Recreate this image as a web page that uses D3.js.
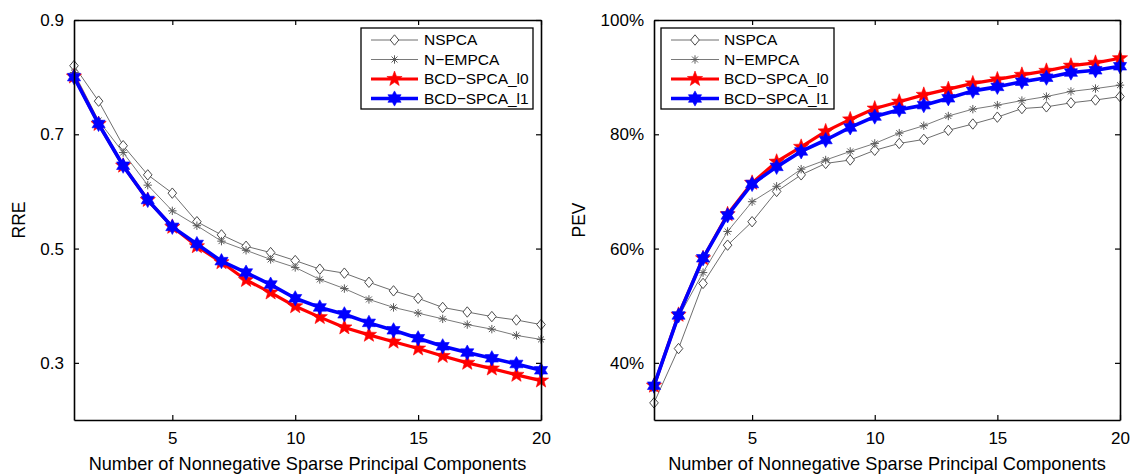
<!DOCTYPE html>
<html>
<head>
<meta charset="utf-8">
<script src="https://cdn.jsdelivr.net/npm/d3@7"></script>
<style>
  html, body { margin: 0; padding: 0; background: #fff; }
  svg { display: block; font-family: "Liberation Sans", Arial, Helvetica, sans-serif; }
</style>
</head>
<body>
<svg id="chart" width="1133" height="474"></svg>
<script>
// Number of nonnegative sparse principal components
const components = d3.range(1, 21);

// Relative reconstruction error (left panel)
const rreNSPCA  = [0.820, 0.758, 0.680, 0.629, 0.597, 0.547, 0.524, 0.504, 0.493, 0.479,
                   0.464, 0.457, 0.441, 0.426, 0.413, 0.397, 0.389, 0.381, 0.375, 0.367];
const rreNEMPCA = [0.808, 0.724, 0.668, 0.611, 0.566, 0.540, 0.513, 0.497, 0.481, 0.467,
                   0.446, 0.430, 0.411, 0.397, 0.387, 0.377, 0.367, 0.359, 0.348, 0.341];
const rreL0     = [0.801, 0.718, 0.645, 0.585, 0.538, 0.504, 0.476, 0.445, 0.423, 0.399,
                   0.380, 0.362, 0.349, 0.337, 0.325, 0.312, 0.300, 0.290, 0.279, 0.269];
const rreL1     = [0.800, 0.718, 0.645, 0.585, 0.538, 0.508, 0.478, 0.458, 0.437, 0.413,
                   0.397, 0.385, 0.370, 0.357, 0.343, 0.329, 0.318, 0.308, 0.298, 0.287];

// Proportion of explained variance, in percent (right panel)
const pevNSPCA  = [33.0, 42.5, 53.9, 60.6, 64.7, 70.0, 72.9, 74.9, 75.5, 77.2,
                   78.4, 79.1, 80.7, 81.8, 83.0, 84.5, 84.8, 85.5, 86.0, 86.6];
const pevNEMPCA = [35.5, 48.0, 55.8, 63.0, 68.2, 70.9, 73.9, 75.5, 77.0, 78.4,
                   80.2, 81.5, 83.2, 84.4, 85.1, 85.9, 86.6, 87.5, 88.0, 88.6];
const pevL0     = [36.0, 48.4, 58.3, 66.0, 71.5, 75.2, 77.8, 80.5, 82.6, 84.5,
                   85.7, 86.9, 87.9, 88.9, 89.6, 90.4, 91.1, 92.0, 92.5, 93.3];
const pevL1     = [36.0, 48.3, 58.3, 65.8, 71.3, 74.3, 77.0, 79.0, 81.2, 83.1,
                   84.3, 85.1, 86.3, 87.6, 88.3, 89.2, 89.9, 90.8, 91.2, 91.9];

const methodNames = ["NSPCA", "N\u2212EMPCA", "BCD\u2212SPCA_l0", "BCD\u2212SPCA_l1"];

const xTicks    = [5, 10, 15, 20];
const rreTicks  = [0.3, 0.5, 0.7, 0.9];
const pevTicks  = [40, 60, 80, 100];
const xLabel    = "Number of Nonnegative Sparse Principal Components";

// Marker shapes
function starPath(points, outer, inner) {
  const pts = [];
  for (let i = 0; i < points * 2; i++) {
    const r = i % 2 === 0 ? outer : inner;
    const a = -Math.PI / 2 + i * Math.PI / points;
    pts.push([r * Math.cos(a), r * Math.sin(a)]);
  }
  return "M" + pts.map(p => p[0].toFixed(2) + "," + p[1].toFixed(2)).join("L") + "Z";
}
const diamondPath  = "M0,-5.2L4.3,0L0,5.2L-4.3,0Z";
const asteriskPath = (() => {
  const r = 4.2, d = r * 0.7071;
  return `M${-r},0L${r},0M0,${-r}L0,${r}M${-d},${-d}L${d},${d}M${-d},${d}L${d},${-d}`;
})();
const pentagram = starPath(5, 8, 3.3);
const hexagram  = starPath(6, 7.6, 4.3);

const styles = [
  { line: "#6e6e6e", width: 1,   marker: diamondPath,  mFill: "#fff",    mStroke: "#4a4a4a", mWidth: 1 },
  { line: "#7a7a7a", width: 1,   marker: asteriskPath, mFill: "none",    mStroke: "#5a5a5a", mWidth: 1 },
  { line: "#ff0000", width: 3.2, marker: pentagram,    mFill: "#ff0000", mStroke: "#ff0000", mWidth: 0.6 },
  { line: "#0000ff", width: 3.6, marker: hexagram,     mFill: "#0000ff", mStroke: "#0000ff", mWidth: 0.6 }
];

const svg = d3.select("#chart");

function panel(opts) {
  const { left, right, top, bottom, yDomain, yTicks, yFormat, yLabel, yLabelX, series, legend } = opts;
  const g = svg.append("g");
  const x = d3.scaleLinear().domain([1, 20]).range([left, right]);
  const y = d3.scaleLinear().domain(yDomain).range([bottom, top]);

  // series lines + markers
  series.forEach((vals, si) => {
    const st = styles[si];
    const pts = components.map((c, i) => [x(c), y(vals[i])]);
    g.append("path")
      .attr("d", d3.line()(pts))
      .attr("fill", "none")
      .attr("stroke", st.line)
      .attr("stroke-width", st.width)
      .attr("stroke-linejoin", "round");
    g.append("g").selectAll("path").data(pts).join("path")
      .attr("transform", d => `translate(${d[0]},${d[1]})`)
      .attr("d", st.marker)
      .attr("fill", st.mFill)
      .attr("stroke", st.mStroke)
      .attr("stroke-width", st.mWidth)
      .attr("stroke-linejoin", "miter");
  });

  // axes box with inward ticks on all four sides
  const tickLen = 5;
  const bottomAxis = d3.axisBottom(x).tickValues(xTicks).tickSizeInner(-tickLen).tickSizeOuter(0).tickPadding(12);
  const topAxis    = d3.axisTop(x).tickValues(xTicks).tickSizeInner(-tickLen).tickSizeOuter(0).tickFormat("");
  const leftAxis   = d3.axisLeft(y).tickValues(yTicks).tickSizeInner(-tickLen).tickSizeOuter(0).tickPadding(10).tickFormat(yFormat);
  const rightAxis  = d3.axisRight(y).tickValues(yTicks).tickSizeInner(-tickLen).tickSizeOuter(0).tickFormat("");

  const axes = [
    [bottomAxis, `translate(0,${bottom})`],
    [topAxis, `translate(0,${top})`],
    [leftAxis, `translate(${left},0)`],
    [rightAxis, `translate(${right},0)`]
  ];
  axes.forEach(([ax, tr]) => {
    const a = g.append("g").attr("transform", tr).call(ax);
    a.select(".domain").attr("stroke", "#000").attr("stroke-width", 1.6);
    a.selectAll(".tick line").attr("stroke", "#000").attr("stroke-width", 1.2);
    a.selectAll(".tick text").attr("fill", "#000").style("font-size", "17px")
      .style("font-family", "'Liberation Sans', Arial, sans-serif");
  });

  // axis labels
  g.append("text")
    .attr("x", (left + right) / 2).attr("y", 469.5)
    .attr("text-anchor", "middle")
    .style("font-size", "18.2px")
    .text(xLabel);
  g.append("text")
    .attr("transform", `translate(${yLabelX},${(top + bottom) / 2}) rotate(-90)`)
    .attr("text-anchor", "middle")
    .style("font-size", "17.5px")
    .text(yLabel);

  // legend
  const lg = g.append("g");
  lg.append("rect")
    .attr("x", legend.x0).attr("y", legend.y0)
    .attr("width", legend.x1 - legend.x0).attr("height", legend.y1 - legend.y0)
    .attr("fill", "#fff").attr("stroke", "#000").attr("stroke-width", 1.3);
  const rowY = [40, 59.5, 79, 98.5];
  methodNames.forEach((name, i) => {
    const st = styles[i];
    const yy = rowY[i];
    lg.append("line")
      .attr("x1", legend.lineX0).attr("x2", legend.lineX1)
      .attr("y1", yy).attr("y2", yy)
      .attr("stroke", st.line).attr("stroke-width", st.width);
    lg.append("path")
      .attr("transform", `translate(${(legend.lineX0 + legend.lineX1) / 2},${yy})`)
      .attr("d", st.marker)
      .attr("fill", st.mFill).attr("stroke", st.mStroke).attr("stroke-width", st.mWidth);
    lg.append("text")
      .attr("x", legend.textX).attr("y", yy)
      .attr("dy", "0.35em")
      .style("font-size", "15.5px")
      .text(name);
  });
}

panel({
  left: 74, right: 541, top: 20, bottom: 420,
  yDomain: [0.2, 0.9], yTicks: rreTicks, yFormat: d3.format(".1f"),
  yLabel: "RRE", yLabelX: 25,
  series: [rreNSPCA, rreNEMPCA, rreL0, rreL1],
  legend: { x0: 361, x1: 533, y0: 28, y1: 109, lineX0: 371, lineX1: 418, textX: 424 }
});

panel({
  left: 654, right: 1120, top: 20, bottom: 420,
  yDomain: [30, 100], yTicks: pevTicks, yFormat: d => d + "%",
  yLabel: "PEV", yLabelX: 585,
  series: [pevNSPCA, pevNEMPCA, pevL0, pevL1],
  legend: { x0: 661, x1: 834, y0: 28, y1: 109, lineX0: 671, lineX1: 719, textX: 724 }
});
</script>
</body>
</html>
